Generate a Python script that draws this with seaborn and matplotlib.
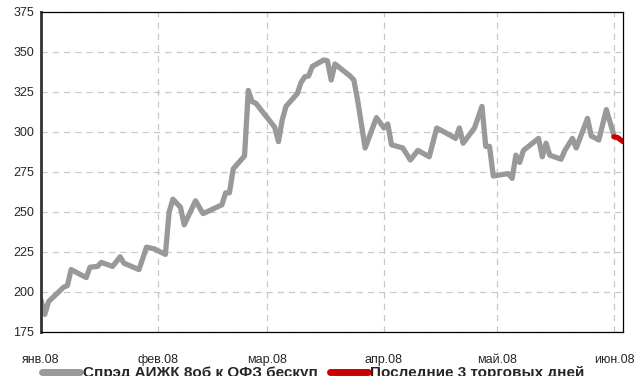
import datetime as dt
import pandas as pd
import matplotlib
matplotlib.use("Agg")
import matplotlib.pyplot as plt
import matplotlib.dates as mdates
import seaborn as sns

# -----------------------------------------------------------
# Data
# -----------------------------------------------------------
spread_dates = [
    "2008-01-01", "2008-01-02", "2008-01-03", "2008-01-07", "2008-01-08", "2008-01-09",
    "2008-01-13", "2008-01-14", "2008-01-16", "2008-01-17", "2008-01-20", "2008-01-22",
    "2008-01-23", "2008-01-27", "2008-01-29", "2008-01-31", "2008-02-03", "2008-02-04",
    "2008-02-05", "2008-02-07", "2008-02-08", "2008-02-11", "2008-02-13", "2008-02-18",
    "2008-02-19", "2008-02-20", "2008-02-21", "2008-02-24", "2008-02-25", "2008-02-26",
    "2008-02-27", "2008-03-03", "2008-03-04", "2008-03-05", "2008-03-06", "2008-03-09",
    "2008-03-10", "2008-03-11", "2008-03-12", "2008-03-13", "2008-03-16", "2008-03-17",
    "2008-03-18", "2008-03-19", "2008-03-23", "2008-03-24", "2008-03-25", "2008-03-27",
    "2008-03-30", "2008-04-01", "2008-04-02", "2008-04-03", "2008-04-06", "2008-04-08",
    "2008-04-10", "2008-04-13", "2008-04-15", "2008-04-17", "2008-04-20", "2008-04-21",
    "2008-04-22", "2008-04-25", "2008-04-27", "2008-04-28", "2008-04-29", "2008-04-30",
    "2008-05-04", "2008-05-05", "2008-05-06", "2008-05-07", "2008-05-08", "2008-05-12",
    "2008-05-13", "2008-05-14", "2008-05-15", "2008-05-18", "2008-05-19", "2008-05-21",
    "2008-05-22", "2008-05-25", "2008-05-26", "2008-05-28", "2008-05-30", "2008-06-01",
]
spread_values = [
    195, 186, 194, 203, 204, 214,
    209, 215.5, 216, 218.5, 216, 222,
    218, 214, 228, 227, 223.5, 250,
    258, 253, 242, 257, 249, 254.5,
    262, 262, 277, 285, 326, 319,
    318, 303, 294, 307.5, 316, 324,
    331, 334.5, 335, 341, 345, 344.5,
    332.5, 342.5, 335, 332.5, 320, 290,
    309, 302.5, 305, 292, 290, 282.5,
    288.5, 284.5, 302.5, 300, 296, 302.5,
    293, 302.5, 316, 291, 291, 272.5,
    274, 271, 285.5, 281, 288.5, 296,
    284.5, 293, 285.5, 283, 288.5, 296,
    290, 308.5, 297.5, 295, 314, 298,
]

last_dates = ["2008-06-01 00:00", "2008-06-02 00:00", "2008-06-03 10:00"]
last_values = [297, 296.5, 294]

month_ticks = ["2008-01-01", "2008-02-01", "2008-03-01", "2008-04-01", "2008-05-01", "2008-06-01"]
month_labels = ["янв.08", "фев.08", "мар.08", "апр.08", "май.08", "июн.08"]
y_ticks = [175, 200, 225, 250, 275, 300, 325, 350, 375]

label_spread = "Спрэд АИЖК 8об к ОФЗ бескуп"
label_last = "Последние 3 торговых дней"

df_spread = pd.DataFrame({"date": pd.to_datetime(spread_dates), "value": spread_values})
df_last = pd.DataFrame({"date": pd.to_datetime(last_dates, format="%Y-%m-%d %H:%M"),
                        "value": last_values})

# -----------------------------------------------------------
# Figure
# -----------------------------------------------------------
sns.set_style("white")
plt.rcParams["font.family"] = ["Liberation Sans Narrow", "Liberation Sans", "DejaVu Sans"]

W, H = 635, 376
fig = plt.figure(figsize=(W / 100, H / 100), dpi=100)
ax = fig.add_axes([41 / W, (H - 332) / H, (623 - 41) / W, (332 - 12) / H])

GRAY = "#999999"
RED = "#cc0000"

sns.lineplot(data=df_spread, x="date", y="value", ax=ax, color=GRAY, lw=3.8,
             label=label_spread, solid_capstyle="round", solid_joinstyle="round")
sns.lineplot(data=df_last, x="date", y="value", ax=ax, color=RED, lw=3.8,
             label=label_last, solid_capstyle="round")

ax.set_xlim(pd.Timestamp("2008-01-01"), pd.Timestamp("2008-06-03 10:00"))
ax.set_ylim(175, 375)
ax.set_yticks(y_ticks)
ax.set_xticks(pd.to_datetime(month_ticks))
ax.set_xticklabels(month_labels)
ax.set_xlabel("")
ax.set_ylabel("")

ax.grid(True, color="#c8c8c8", linestyle=(0, (5, 4)), lw=0.9)
ax.tick_params(axis="x", direction="out", length=4, width=0.8, color="#555555",
               pad=12, labelsize=9)
ax.tick_params(axis="y", direction="out", length=3, width=0.8, color="#555555",
               pad=2, labelsize=9)

for side in ["top", "right", "bottom"]:
    ax.spines[side].set_color("black")
    ax.spines[side].set_linewidth(0.9)
ax.spines["left"].set_color("#333333")
ax.spines["left"].set_linewidth(2)

# legend sits on the bottom edge, as in the source picture
ax.get_legend().remove()
handles, labels = ax.get_legend_handles_labels()
leg = fig.legend(handles, labels, loc="center left", bbox_to_anchor=(36 / W, 1 - 373 / H),
                 ncol=2, frameon=False, handlelength=2.5, handletextpad=0.15,
                 columnspacing=0.8, borderaxespad=0,
                 prop={"weight": "bold", "size": 11})
for line in leg.get_lines():
    line.set_linewidth(5)

fig.savefig("out.png", dpi=100)
